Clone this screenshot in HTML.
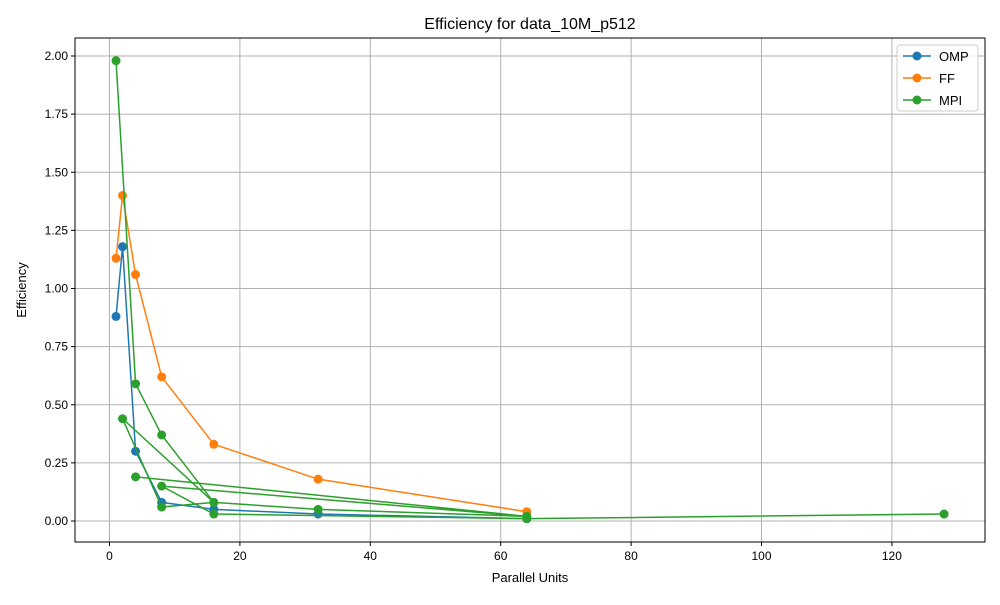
<!DOCTYPE html>
<html><head><meta charset="utf-8"><style>body{margin:0;background:#fff}svg{font-family:"Liberation Sans",sans-serif}</style></head>
<body>
<svg id="c" width="1000" height="600" xmlns="http://www.w3.org/2000/svg"></svg>
<script>
const xTicks=[0,20,40,60,80,100,120];
const yTicks=[0,0.25,0.5,0.75,1.0,1.25,1.5,1.75,2.0];
const ompX=[1,2,4,8,16,32,64];
const ompY=[0.88,1.18,0.30,0.08,0.05,0.03,0.01];
const ffX=[1,2,4,8,16,32,64];
const ffY=[1.13,1.40,1.06,0.62,0.33,0.18,0.04];
const mpiX=[1,4,8,16,2,8,16,32,64,4,64,8,16,64,128];
const mpiY=[1.98,0.59,0.37,0.08,0.44,0.06,0.08,0.05,0.02,0.19,0.02,0.15,0.03,0.01,0.03];
const L=75,R=985,T=38,B=542;
const sx=v=>109.5+v*6.52, sy=v=>521-v*232.5;
const svg=document.getElementById('c');const NS='http://www.w3.org/2000/svg';
function mk(t,a,p){const e=document.createElementNS(NS,t);for(const k in a)e.setAttribute(k,a[k]);(p||svg).appendChild(e);return e;}
const g=mk('g',{});


xTicks.forEach(v=>{mk('line',{x1:sx(v),x2:sx(v),y1:T,y2:B,stroke:'#b0b0b0','stroke-width':1},g);
 mk('line',{x1:sx(v),x2:sx(v),y1:B,y2:B+4,stroke:'#000'});
 const t=mk('text',{x:sx(v),y:B+18,'font-size':12,'text-anchor':'middle'});t.textContent=v;
 
 });
yTicks.forEach(v=>{mk('line',{x1:L,x2:R,y1:sy(v),y2:sy(v),stroke:'#b0b0b0','stroke-width':1},g);
 mk('line',{x1:L-4,x2:L,y1:sy(v),y2:sy(v),stroke:'#000'});
 const t=mk('text',{x:L-7,y:sy(v)+4,'font-size':12,'text-anchor':'end'});t.textContent=v.toFixed(2);
 
 });
function series(xs,ys,c,n){const gg=mk('g',{});
 
 
 mk('polyline',{points:xs.map((x,i)=>sx(x)+','+sy(ys[i])).join(' '),fill:'none',stroke:c,'stroke-width':1.5},gg);
 xs.forEach((x,i)=>{const m=mk('circle',{cx:sx(x),cy:sy(ys[i]),r:4.5,fill:c},gg);
 
 });}
series(ompX,ompY,'#1f77b4','omp');series(ffX,ffY,'#ff7f0e','ff');series(mpiX,mpiY,'#2ca02c','mpi');
mk('rect',{x:L,y:T,width:R-L,height:B-T,fill:'none',stroke:'#000','stroke-width':1});
</script>
<svg width="1000" height="600" style="position:absolute;left:0;top:0" xmlns="http://www.w3.org/2000/svg" font-family="Liberation Sans, sans-serif">
<text x="530" y="29" font-size="16" text-anchor="middle">Efficiency for data_10M_p512</text>
<text x="530" y="582" font-size="13" text-anchor="middle">Parallel Units</text>
<text x="26" y="290" font-size="13" text-anchor="middle" transform="rotate(-90 26 290)">Efficiency</text>
<g>
<rect x="897" y="45" width="81" height="66" rx="3" fill="#fff" fill-opacity="0.8" stroke="#ccc"/>
<line x1="903" y1="56" x2="931" y2="56" stroke="#1f77b4" stroke-width="1.5"/><circle cx="917" cy="56" r="4.5" fill="#1f77b4"/>
<text x="939" y="61" font-size="13">OMP</text>
<line x1="903" y1="78" x2="931" y2="78" stroke="#ff7f0e" stroke-width="1.5"/><circle cx="917" cy="78" r="4.5" fill="#ff7f0e"/>
<text x="939" y="83" font-size="13">FF</text>
<line x1="903" y1="100" x2="931" y2="100" stroke="#2ca02c" stroke-width="1.5"/><circle cx="917" cy="100" r="4.5" fill="#2ca02c"/>
<text x="939" y="105" font-size="13">MPI</text>
</g>
</svg>
</body></html>
